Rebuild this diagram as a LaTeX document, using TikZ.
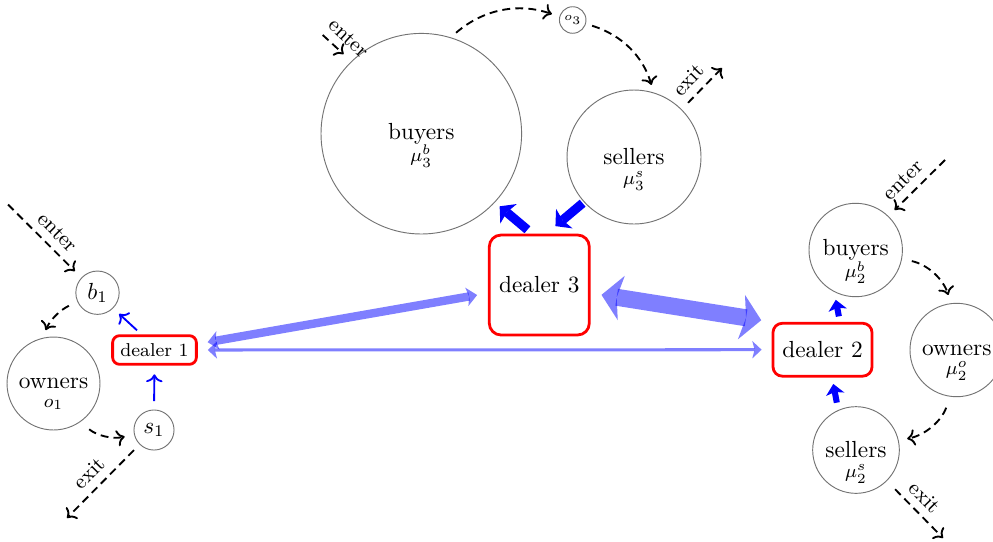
\documentclass[tikz,border=0pt]{standalone}
\usetikzlibrary{arrows.meta}
\begin{document}
\begin{tikzpicture}[x=0.4292pt,y=-0.4292pt,
  circ/.style={circle, draw=black!55, line width=0.4pt, inner sep=0pt},
  sub/.style={font=\footnotesize, anchor=base, inner sep=0pt},
  dealer/.style={draw=red, line width=1.2pt, rounded corners=#1},
  flow/.style={thick, dash pattern=on 3.4pt off 2.2pt, ->},
  lbl/.style={sloped, above, font=\small},
  thinblue/.style={blue, thick, ->},
  midblue/.style={blue, line width=2.6pt, -{Stealth[length=4.5pt,width=8pt,inset=1pt,line width=0pt]}},
  bigblue/.style={blue, line width=3.9pt, -{Stealth[length=5pt,width=11pt,inset=1pt,line width=0pt]}},
  dbl/.style={blue, opacity=0.5, <->},
  dblA/.style={dbl, line width=1.3pt, >={Stealth[length=4pt,width=7.5pt,inset=1pt,line width=0pt]}},
  dblB/.style={dbl, line width=3.6pt, >={Stealth[length=4.5pt,width=8pt,inset=1pt,line width=0pt]}},
  dblC/.style={dbl, line width=7.3pt, >={Stealth[length=8.6pt,width=19.3pt,inset=2pt,line width=0pt]}}]
\useasboundingbox (0,0) rectangle (993,541);

% left group
\node[circ, minimum size=18.6pt] (b1) at (97.5,292.7) {$b_1$};
\node[circ, minimum size=39.9pt] (o1) at (53.5,383.5) {owners};
\node[sub] (o1m) at ([yshift=-8pt]o1.base) {$o_1$};
\node[circ, minimum size=17.2pt] (s1) at (154,430) {$s_1$};
\node[dealer=3pt, font=\footnotesize] (d1) at (154.5,350) {dealer 1};

% top group
\node[circ, minimum size=86.1pt] (b3) at (421.3,133.7) {buyers};
\node[sub] (b3m) at ([yshift=-9.5pt]b3.base) {$\mu_3^b$};
\node[circ, minimum size=57.5pt] (s3) at (634,157) {sellers};
\node[sub] (s3m) at ([yshift=-8.2pt]s3.base) {$\mu_3^s$};
\node[circ, minimum size=11.4pt, font=\tiny] (o3) at (572.7,20) {$o_3$};
\node[dealer=5pt, minimum width=42.9pt, minimum height=42.9pt] (d3) at (539.3,285) {dealer 3};

% right group
\node[circ, minimum size=40.1pt] (b2) at (855.7,250) {buyers};
\node[sub] (b2m) at ([yshift=-9.5pt]b2.base) {$\mu_2^b$};
\node[circ, minimum size=40.1pt] (o2) at (956.7,350) {owners};
\node[sub] (o2m) at ([yshift=-8.2pt]o2.base) {$\mu_2^o$};
\node[circ, minimum size=37.2pt] (s2) at (856,450) {sellers};
\node[sub] (s2m) at ([yshift=-8.2pt]s2.base) {$\mu_2^s$};
\node[dealer=4pt, minimum width=42.5pt, minimum height=22.7pt] (d2) at (822.5,349.7) {dealer 2};

% free ends
\coordinate (e1) at (8,204.5);
\coordinate (x1) at (67,518);
\coordinate (e3) at (322.7,35);
\coordinate (x3) at (722,68);
\coordinate (e2) at (945,160);
\coordinate (x2) at (943,538);

% left flows
\draw[flow, shorten >=3.9pt] (e1) -- (b1.137) node[lbl, pos=0.53] {enter};
\draw[flow, shorten <=4pt, shorten >=3.7pt] (b1.204) to[bend right=20] (o1.104);
\draw[flow, shorten <=4.9pt, shorten >=4.1pt] (o1.-55) to[bend right=27] (s1.192);
\draw[flow, shorten <=3.4pt] (s1.225) -- (x1) node[lbl, pos=0.54] {exit};
\draw[thinblue, shorten <=3.6pt, shorten >=3.7pt] (s1.north) -- (d1.south);
\draw[thinblue, shorten <=2.5pt, shorten >=3.5pt] (d1.130) -- (b1.-45.7);

% top flows
\draw[flow, shorten >=4.5pt] (e3) -- (b3.134.7) node[lbl, pos=0.55] {enter};
\draw[flow, shorten <=3pt, shorten >=3.4pt] (b3.73.5) to[bend left=30] (o3.166.6);
\draw[flow, shorten <=2.8pt, shorten >=3.4pt] (o3.-16.7) to[bend left=28] (s3.73);
\draw[flow, shorten <=3.9pt] (s3.45.5) -- (x3) node[lbl, pos=0.45] {exit};
\draw[bigblue, shorten <=2.6pt, shorten >=2.6pt] (d3.98.4) -- (b3.-43.5);
\draw[bigblue, shorten <=0.7pt, shorten >=5pt] (s3.222) -- (d3.82);

% right flows
\draw[flow, shorten >=3.7pt] (e2) -- (b2.46) node[lbl, pos=0.55] {enter};
\draw[flow, shorten <=4.3pt, shorten >=3.7pt] (b2.-11.8) to[bend left=30] (o2.97);
\draw[flow, shorten <=5pt, shorten >=3.7pt] (o2.-98) to[bend left=30] (s2.13);
\draw[flow, shorten <=5pt] (s2.-45.7) -- (x2) node[lbl, pos=0.48] {exit};
\draw[midblue, shorten <=2.4pt, shorten >=3.4pt] (d2.58.6) -- (b2.243);
\draw[midblue, shorten <=3.2pt, shorten >=2.8pt] (s2.114.6) -- (d2.-71.8);

% dealer links
\draw[dblA, shorten <=4.3pt, shorten >=4.3pt] (d1.east) -- (d2.west);
\draw[dblB, shorten <=4.3pt, shorten >=4.7pt] (d1.8.8) -- (d3.189.1);
\draw[dblC, shorten <=4.7pt, shorten >=4.5pt] (d3.-9.4) -- (d2.north west);
\end{tikzpicture}
\end{document}
